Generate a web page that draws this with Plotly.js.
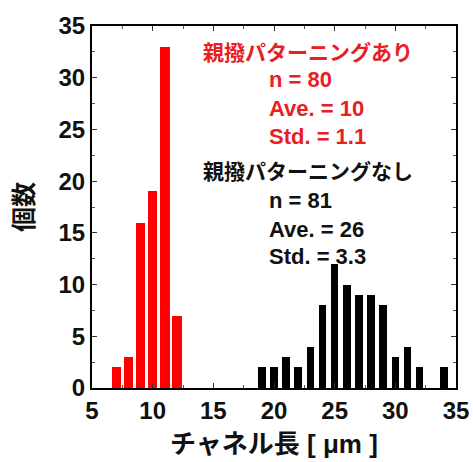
<!DOCTYPE html>
<html>
<head>
<meta charset="utf-8">
<script src="https://cdn.plot.ly/plotly-3.0.1.min.js"></script>
<style>html,body{margin:0;padding:0;background:#fff;}#chart{width:473px;height:462px;}</style>
</head>
<body>
<div id="chart"></div>
<script>
// Data
var redX = [7, 8, 9, 10, 11, 12];
var redCounts = [2, 3, 16, 19, 33, 7];
var blackX = [19, 20, 21, 22, 23, 24, 25, 26, 27, 28, 29, 30, 31, 32, 34];
var blackCounts = [2, 2, 3, 2, 4, 8, 12, 10, 9, 9, 8, 3, 4, 2, 2];
var xTicks = [5, 10, 15, 20, 25, 30, 35];
var yTicks = [0, 5, 10, 15, 20, 25, 30, 35];
var redLabel = "親撥パターニングあり";
var redStats = ["n = 80", "Ave. = 10", "Std. = 1.1"];
var blackLabel = "親撥パターニングなし";
var blackStats = ["n = 81", "Ave. = 26", "Std. = 3.3"];
var xTitle = "チャネル長 [ μm ]";
var yTitle = "個数";

var FONT = "Liberation Sans, Arial, Noto Sans CJK JP, sans-serif";
var RED_TEXT = "#e8201f";

var traces = [
  {type: "bar", x: redX, y: redCounts, width: 0.78,
   marker: {color: "#ff0000", line: {width: 0}}, hoverinfo: "x+y"},
  {type: "bar", x: blackX, y: blackCounts, width: 0.63,
   marker: {color: "#000000", line: {width: 0}}, hoverinfo: "x+y"}
];

function ann(text, x, y, color, size) {
  return {text: text, xref: "paper", yref: "paper", x: x, y: y,
    xanchor: "left", yanchor: "middle", showarrow: false,
    font: {family: FONT, size: size, color: color, weight: "bold"}};
}
var annotations = [ann(redLabel, 0.3, 0.928, RED_TEXT, 21)];
var redY = [0.851, 0.772, 0.694];
redStats.forEach(function (s, i) { annotations.push(ann(s, 0.48, redY[i], RED_TEXT, 22)); });
annotations.push(ann(blackLabel, 0.3, 0.597, "#111111", 21));
var blackY = [0.517, 0.437, 0.362];
blackStats.forEach(function (s, i) { annotations.push(ann(s, 0.48, blackY[i], "#111111", 22)); });

var axisCommon = {
  showgrid: false, zeroline: false, showline: true, linecolor: "#000", linewidth: 2,
  mirror: "ticks", ticks: "inside", ticklen: 5, tickwidth: 1, tickcolor: "#333",
  tickfont: {family: FONT, size: 24, color: "#111", weight: "bold"}
};

var layout = {
  width: 473, height: 462,
  margin: {l: 92, r: 17, t: 26, b: 74},
  paper_bgcolor: "#fff", plot_bgcolor: "#fff",
  showlegend: false, bargap: 0,
  xaxis: Object.assign({}, axisCommon, {
    range: [5, 35], tickvals: xTicks, ticktext: xTicks.map(String),
    minor: {dtick: 2.5, tick0: 5, ticks: "inside", ticklen: 3, tickcolor: "#555"},
    title: {text: xTitle, standoff: 12, font: {family: FONT, size: 26, color: "#111", weight: "bold"}}
  }),
  yaxis: Object.assign({}, axisCommon, {
    range: [0, 35], tickvals: yTicks, ticktext: yTicks.map(String),
    minor: {dtick: 2.5, tick0: 0, ticks: "inside", ticklen: 3, tickcolor: "#555"},
    title: {text: yTitle, standoff: 18, font: {family: FONT, size: 25, color: "#111", weight: "bold"}}
  }),
  annotations: annotations
};

Plotly.newPlot("chart", traces, layout, {displayModeBar: false, staticPlot: true});
</script>
</body>
</html>
